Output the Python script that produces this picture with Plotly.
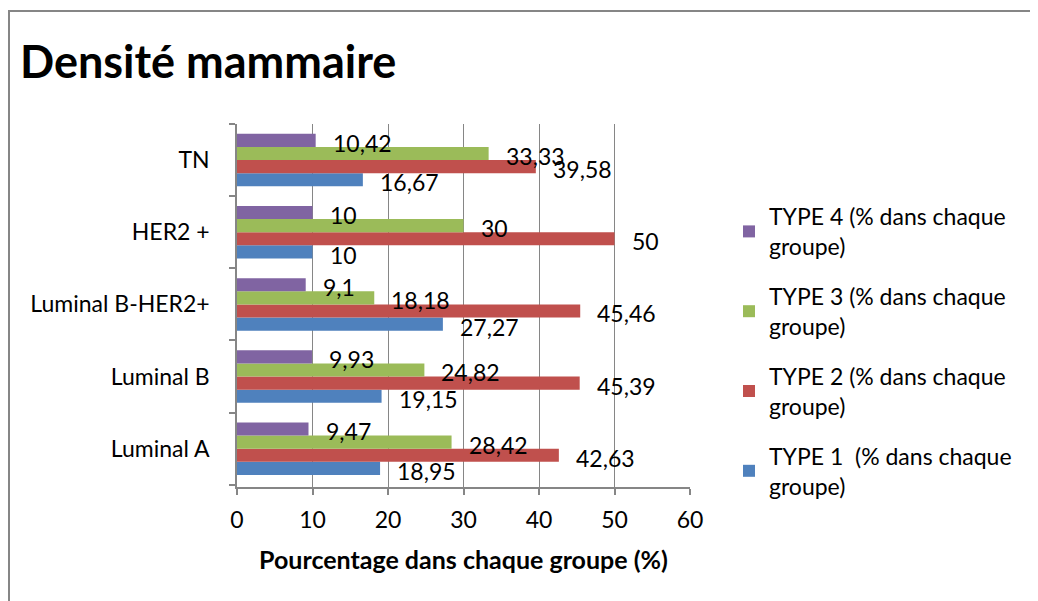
import plotly.graph_objects as go

categories = ["Luminal A", "Luminal B", "Luminal B-HER2+", "HER2 +", "TN"]
type1 = [18.95, 19.15, 27.27, 10, 16.67]
type2 = [42.63, 45.39, 45.46, 50, 39.58]
type3 = [28.42, 24.82, 18.18, 30, 33.33]
type4 = [9.47, 9.93, 9.1, 10, 10.42]
label1 = ["18,95", "19,15", "27,27", "10", "16,67"]
label2 = ["42,63", "45,39", "45,46", "50", "39,58"]
label3 = ["28,42", "24,82", "18,18", "30", "33,33"]
label4 = ["9,47", "9,93", "9,1", "10", "10,42"]
series_names = [
    "TYPE 1\u00a0\u00a0(% dans chaque<br>groupe)",
    "TYPE 2 (% dans chaque<br>groupe)",
    "TYPE 3 (% dans chaque<br>groupe)",
    "TYPE 4 (% dans chaque<br>groupe)",
]
colors = ["#4F81BD", "#C0504D", "#9BBB59", "#8064A2"]
x_ticks = [0, 10, 20, 30, 40, 50, 60]

FONT = "Lato, Calibri, sans-serif"
FS = 23
W, H = 1038, 601
# page has an 8px body margin; compensate
L, T = 229, 116
PW, PH = 453, 363
R, B = W - L - PW, H - T - PH

fig = go.Figure()
all_vals = [type1, type2, type3, type4]
all_labels = [label1, label2, label3, label4]
for i, (vals, name, col) in enumerate(zip(all_vals, series_names, colors)):
    fig.add_trace(go.Bar(
        y=categories, x=vals, name=name, orientation="h",
        marker=dict(color=col, line=dict(width=0)),
        legendgroup=f"g{i}", legendrank=10 - i,
    ))

bargap = 1.5 / 5.5
band = PH / len(categories)
bar_h = band * (1 - bargap) / 4
offsets = [(-1.5 + k) * bar_h for k in range(4)]

for k, (vals, labs) in enumerate(zip(all_vals, all_labels)):
    for cat, v, lab in zip(categories, vals, labs):
        fig.add_annotation(
            x=v, y=cat, text=lab, showarrow=False,
            xanchor="left", yanchor="middle",
            xshift=15, yshift=offsets[k] - 2.5,
            font=dict(family=FONT, size=FS, color="#000000"),
        )

# outer frame (top and left edges)
x_left = (1 - L) / PW
y_top = (T + PH - 3) / PH
fig.add_shape(type="path", xref="paper", yref="paper",
              path=f"M {x_left} -1 L {x_left} {y_top} L 3 {y_top}",
              line=dict(color="#868686", width=2))

fig.update_layout(
    width=W, height=H,
    margin=dict(l=L, r=R, t=T, b=B, autoexpand=False),
    paper_bgcolor="white", plot_bgcolor="white",
    barmode="group", bargap=bargap, bargroupgap=0,
    title=dict(text="<b>Densité mammaire</b>", x=12 / W, xanchor="left",
               xref="container", yref="container", y=1 - 54 / H, yanchor="middle",
               font=dict(family=FONT, size=45, color="#000000")),
    font=dict(family=FONT, size=FS, color="#000000"),
    legend=dict(
        x=(721 - L) / PW, xanchor="left", y=(T + PH - 187) / PH, yanchor="top",
        tracegroupgap=17,
        font=dict(family=FONT, size=FS, color="#000000"),
        bgcolor="rgba(0,0,0,0)",
    ),
    xaxis=dict(
        range=[0, 60], tickvals=x_ticks, ticktext=[str(t) for t in x_ticks],
        showgrid=True, gridcolor="#868686", gridwidth=1,
        showline=True, linecolor="#868686", linewidth=1.5,
        ticks="outside", ticklen=6, tickcolor="#868686", tickwidth=1.5,
        ticklabelstandoff=6,
        zeroline=False,
        title=dict(text="<b>Pourcentage dans chaque groupe (%)</b>", standoff=19,
                   font=dict(family=FONT, size=25, color="#000000")),
        tickfont=dict(family=FONT, size=FS, color="#000000"),
        fixedrange=True,
    ),
    yaxis=dict(
        categoryorder="array", categoryarray=categories,
        showline=True, linecolor="#868686", linewidth=1.5,
        ticks="outside", ticklen=6, tickcolor="#868686", tickwidth=1.5,
        tickson="boundaries", showgrid=False,
        ticklabelstandoff=21,
        tickfont=dict(family=FONT, size=FS, color="#000000"),
        fixedrange=True,
    ),
)

fig.write_html("out.html")
